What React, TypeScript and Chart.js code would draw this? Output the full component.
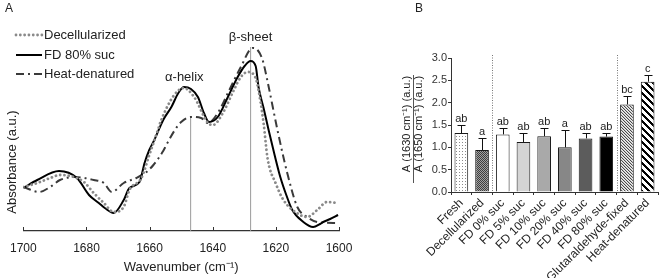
import React, { useEffect, useRef } from "react";
import { Chart, registerables } from "chart.js";

Chart.register(...registerables);

const FONT = "Arial, 'Liberation Sans', sans-serif";
Chart.defaults.font.family = FONT;

// ---------- Panel A: FTIR amide I spectra (wavenumber, absorbance a.u.) ----------
const decellularized: [number, number][] = [
  [1700, 0.22], [1695.6, 0.24], [1691.5, 0.265], [1688.4, 0.28], [1684.0, 0.27],
  [1680.8, 0.245], [1677.7, 0.19], [1674.5, 0.14], [1671.4, 0.095], [1668.2, 0.12],
  [1666.4, 0.205], [1662.6, 0.265], [1660.1, 0.38], [1657.9, 0.48], [1656.3, 0.555],
  [1652.2, 0.68], [1649.1, 0.715], [1645.9, 0.67], [1641.5, 0.54], [1639.9, 0.53],
  [1636.8, 0.59], [1633.3, 0.705], [1631.1, 0.77], [1628.9, 0.795], [1626.4, 0.765],
  [1624.8, 0.64], [1623.9, 0.54], [1622.6, 0.36], [1620.1, 0.24], [1617.6, 0.155],
  [1612.3, 0.08], [1610.1, 0.07], [1606.9, 0.105], [1603.8, 0.145], [1600.3, 0.14],
];

const fd80Suc: [number, number][] = [
  [1700, 0.215], [1695.6, 0.255], [1688.7, 0.3], [1683.0, 0.265], [1679.2, 0.18],
  [1676.1, 0.14], [1674.2, 0.115], [1671.4, 0.09], [1668.2, 0.155], [1666.4, 0.215],
  [1663.2, 0.245], [1661.6, 0.34], [1660.1, 0.405], [1658.5, 0.455], [1655.7, 0.555],
  [1653.1, 0.62], [1650.9, 0.69], [1649.1, 0.72], [1646.9, 0.71], [1644.7, 0.67],
  [1642.8, 0.59], [1641.2, 0.545], [1638.4, 0.57], [1635.2, 0.67], [1632.1, 0.77],
  [1629.9, 0.825], [1628.0, 0.85], [1626.4, 0.825], [1625.5, 0.72], [1623.9, 0.615],
  [1622.3, 0.505], [1620.4, 0.38], [1618.6, 0.27], [1616.7, 0.18], [1614.8, 0.105],
  [1611.3, 0.045], [1608.2, 0.02], [1606.0, 0.035], [1605.0, 0.045], [1602.8, 0.06],
  [1600.3, 0.08],
];

const heatDenatured: [number, number][] = [
  [1700, 0.22], [1695, 0.195], [1691.5, 0.22], [1688.4, 0.255], [1683.6, 0.27],
  [1677.7, 0.255], [1674.5, 0.24], [1672.0, 0.195], [1668.2, 0.24], [1664.2, 0.265],
  [1661.0, 0.295], [1658.8, 0.33], [1655.7, 0.4], [1654.7, 0.43], [1652.2, 0.5],
  [1650.0, 0.545], [1646.9, 0.57], [1643.7, 0.565], [1641.5, 0.54], [1638.4, 0.59],
  [1635.2, 0.69], [1631.1, 0.82], [1627.4, 0.915], [1625.8, 0.905], [1624.2, 0.855],
  [1622.6, 0.745], [1619.5, 0.505], [1616.4, 0.29], [1613.2, 0.12], [1610.1, 0.07],
  [1606.9, 0.045], [1600.3, 0.04],
];

const alphaHelixMarker: [number, number][] = [[1647, 0], [1647, 0.575]];
const betaSheetMarker: [number, number][] = [[1628, 0], [1628, 0.92]];
const wavenumberTicks = [1700, 1680, 1660, 1640, 1620, 1600];

// ---------- Panel B: A(1630)/A(1650) ratio ----------
const categories = [
  "Fresh", "Decellularized", "FD 0% suc", "FD 5% suc", "FD 10% suc",
  "FD 20% suc", "FD 40% suc", "FD 80% suc", "Glutaraldehyde-fixed", "Heat-denatured",
];
const ratioMeans = [1.32, 0.94, 1.29, 1.12, 1.25, 1.0, 1.2, 1.24, 1.96, 2.47];
const ratioErrors = [0.18, 0.27, 0.15, 0.2, 0.18, 0.38, 0.13, 0.09, 0.18, 0.15];
const sigLetters = ["ab", "a", "ab", "ab", "ab", "a", "ab", "ab", "bc", "c"];
const separatorsAfter = [1, 7];

function makePattern(kind: string): CanvasPattern | string {
  const size = kind === "stripes" ? 7 : kind === "hatch" ? 3 : kind === "dots" ? 3 : 2;
  const c = document.createElement("canvas");
  c.width = size;
  c.height = size;
  const g = c.getContext("2d")!;
  g.fillStyle = "#ffffff";
  g.fillRect(0, 0, size, size);
  for (let y = 0; y < size; y++) {
    for (let x = 0; x < size; x++) {
      let col: string | null = null;
      if (kind === "dots") {
        if (x === 1 && y === 1) col = "#8a8a8a";
      } else if (kind === "checker") {
        col = (x + y) % 2 === 0 ? "#3e3e3e" : "#a2a2a2";
      } else if (kind === "hatch") {
        const d = (((x - y) % 3) + 3) % 3;
        col = d === 0 ? "#4a4a4a" : d === 1 ? "#c8c8c8" : "#f0f0f0";
      } else if (kind === "stripes") {
        const d = (((x - y) % 7) + 7) % 7;
        if (d <= 2) col = "#000000";
      }
      if (col) {
        g.fillStyle = col;
        g.fillRect(x, y, 1, 1);
      }
    }
  }
  return g.createPattern(c, "repeat") || "#999";
}

const panelAPlugin = {
  id: "panelADecor",
  afterDraw(chart: any) {
    const ctx = chart.ctx as CanvasRenderingContext2D;
    const xs = chart.scales.x;
    const bottom = chart.chartArea.bottom;
    ctx.save();
    // inner tick marks
    ctx.strokeStyle = "#333";
    ctx.lineWidth = 1;
    wavenumberTicks.forEach((t) => {
      const px = Math.round(xs.getPixelForValue(t)) + 0.5;
      ctx.beginPath();
      ctx.moveTo(px, bottom);
      ctx.lineTo(px, bottom - 4);
      ctx.stroke();
    });
    ctx.fillStyle = "#222";
    ctx.textBaseline = "middle";
    ctx.font = `12px ${FONT}`;
    ctx.textAlign = "left";
    ctx.fillText("A", 5, 9);
    // legend
    const ds = chart.data.datasets;
    const rows = [35, 55, 74];
    for (let i = 0; i < 3; i++) {
      const d = ds[i];
      ctx.save();
      ctx.strokeStyle = d.borderColor;
      ctx.lineWidth = d.borderWidth;
      ctx.lineCap = d.borderCapStyle || "butt";
      ctx.setLineDash(d.borderDash || []);
      ctx.beginPath();
      ctx.moveTo(16, rows[i]);
      ctx.lineTo(42, rows[i]);
      ctx.stroke();
      ctx.restore();
      ctx.font = `13px ${FONT}`;
      ctx.fillStyle = "#222";
      ctx.fillText(d.label, 44, rows[i] + 0.5);
    }
    // peak labels
    ctx.textAlign = "center";
    ctx.font = `13px ${FONT}`;
    ctx.fillText("α-helix", xs.getPixelForValue(1649), 77);
    ctx.fillText("β-sheet", xs.getPixelForValue(1628), 37);
    // y title
    ctx.save();
    ctx.translate(12, 162);
    ctx.rotate(-Math.PI / 2);
    ctx.font = `13px ${FONT}`;
    ctx.fillText("Absorbance (a.u.)", 0, 0);
    ctx.restore();
    ctx.restore();
  },
};

const panelBPlugin = {
  id: "panelBDecor",
  afterDatasetsDraw(chart: any) {
    const ctx = chart.ctx as CanvasRenderingContext2D;
    const ys = chart.scales.y;
    const xs = chart.scales.x;
    const meta = chart.getDatasetMeta(0);
    ctx.save();
    // separators
    ctx.strokeStyle = "#777";
    ctx.lineWidth = 1;
    ctx.setLineDash([1, 1.5]);
    separatorsAfter.forEach((i) => {
      const px = Math.round((xs.getPixelForValue(i) + xs.getPixelForValue(i + 1)) / 2) + 0.5;
      ctx.beginPath();
      ctx.moveTo(px, ys.getPixelForValue(3.0) - 3);
      ctx.lineTo(px, chart.chartArea.bottom);
      ctx.stroke();
    });
    ctx.setLineDash([]);
    // error bars + letters
    ctx.strokeStyle = "#111";
    ctx.fillStyle = "#222";
    ctx.font = `11px ${FONT}`;
    ctx.textAlign = "center";
    ctx.textBaseline = "bottom";
    meta.data.forEach((bar: any, i: number) => {
      const x = Math.round(bar.x) + 0.5;
      const yBar = ys.getPixelForValue(ratioMeans[i]);
      const yTop = Math.round(ys.getPixelForValue(ratioMeans[i] + ratioErrors[i])) + 0.5;
      ctx.beginPath();
      ctx.moveTo(x, yBar);
      ctx.lineTo(x, yTop);
      ctx.moveTo(x - 4, yTop);
      ctx.lineTo(x + 4, yTop);
      ctx.stroke();
      ctx.fillText(sigLetters[i], bar.x, yTop - 1);
    });
    ctx.restore();
  },
  afterDraw(chart: any) {
    const ctx = chart.ctx as CanvasRenderingContext2D;
    ctx.save();
    ctx.fillStyle = "#222";
    ctx.font = `12px ${FONT}`;
    ctx.textAlign = "left";
    ctx.textBaseline = "middle";
    ctx.fillText("B", 35, 9);
    // fraction title
    const cy = 124;
    ctx.font = `11px ${FONT}`;
    ctx.textAlign = "center";
    ctx.save();
    ctx.translate(27, cy);
    ctx.rotate(-Math.PI / 2);
    ctx.fillText("A (1630 cm⁻¹) (a.u.)", 0, 0);
    ctx.restore();
    ctx.save();
    ctx.translate(39, cy);
    ctx.rotate(-Math.PI / 2);
    ctx.fillText("A (1650 cm⁻¹) (a.u.)", 0, 0);
    ctx.restore();
    ctx.strokeStyle = "#555";
    ctx.lineWidth = 1;
    ctx.beginPath();
    ctx.moveTo(33.5, 75);
    ctx.lineTo(33.5, 183);
    ctx.stroke();
    ctx.restore();
  },
};

const toXY = (arr: [number, number][]) => arr.map(([x, y]) => ({ x, y }));

export default function App() {
  const refA = useRef<HTMLCanvasElement>(null);
  const refB = useRef<HTMLCanvasElement>(null);

  useEffect(() => {
    const chartA = new Chart(refA.current!, {
      type: "line",
      data: {
        datasets: [
          {
            label: "Decellularized",
            data: toXY(decellularized),
            borderColor: "#8a8a8a",
            borderWidth: 2.8,
            borderDash: [0.01, 4.3],
            borderCapStyle: "round",
            pointRadius: 0,
            cubicInterpolationMode: "monotone",
          },
          {
            label: "FD 80% suc",
            data: toXY(fd80Suc),
            borderColor: "#000000",
            borderWidth: 2,
            pointRadius: 0,
            cubicInterpolationMode: "monotone",
          },
          {
            label: "Heat-denatured",
            data: toXY(heatDenatured),
            borderColor: "#3a3a3a",
            borderWidth: 2,
            borderDash: [8, 4, 2, 4],
            pointRadius: 0,
            cubicInterpolationMode: "monotone",
          },
          {
            label: "α-helix",
            data: toXY(alphaHelixMarker),
            borderColor: "#9a9a9a",
            borderWidth: 1,
            pointRadius: 0,
          },
          {
            label: "β-sheet",
            data: toXY(betaSheetMarker),
            borderColor: "#9a9a9a",
            borderWidth: 1,
            pointRadius: 0,
          },
        ],
      } as any,
      options: {
        animation: false,
        responsive: false,
        maintainAspectRatio: false,
        layout: { padding: { left: 21, right: 31, top: 31, bottom: 0 } },
        plugins: { legend: { display: false }, tooltip: { enabled: false } },
        scales: {
          x: {
            type: "linear",
            min: 1600,
            max: 1700,
            reverse: true,
            ticks: {
              stepSize: 20,
              font: { size: 12 },
              color: "#222",
              padding: 10,
              callback: (v: any) => String(v),
            },
            grid: { display: false, drawTicks: false },
            border: { display: true, color: "#333", width: 1.2 },
            title: {
              display: true,
              text: "Wavenumber (cm⁻¹)",
              font: { size: 13 },
              color: "#222",
              padding: { top: 2, bottom: 3 },
            },
            afterFit: (s: any) => {
              s.height = 47;
            },
          },
          y: { display: false, min: 0, max: 1 },
        },
      } as any,
      plugins: [panelAPlugin],
    });

    const fills = [
      makePattern("dots"),
      makePattern("checker"),
      "#ffffff",
      "#d4d4d4",
      "#a9a9a9",
      "#878787",
      "#5c5c5c",
      "#000000",
      makePattern("hatch"),
      makePattern("stripes"),
    ];

    const chartB = new Chart(refB.current!, {
      type: "bar",
      data: {
        labels: categories,
        datasets: [
          {
            data: ratioMeans,
            backgroundColor: fills,
            borderColor: "#1a1a1a",
            borderWidth: 1,
            barPercentage: 0.66,
            categoryPercentage: 1,
          },
        ],
      } as any,
      options: {
        animation: false,
        responsive: false,
        maintainAspectRatio: false,
        layout: { padding: { left: 0, right: 2, top: 58, bottom: 0 } },
        plugins: { legend: { display: false }, tooltip: { enabled: false } },
        scales: {
          x: {
            ticks: {
              minRotation: 45,
              maxRotation: 45,
              autoSkip: false,
              font: { size: 12 },
              color: "#222",
              padding: 1,
            },
            grid: { display: true, drawOnChartArea: false, drawTicks: true, tickLength: 3, color: "#333" },
            border: { color: "#333" },
            afterFit: (s: any) => {
              s.height = 86;
            },
          },
          y: {
            min: 0,
            max: 3,
            ticks: {
              stepSize: 0.5,
              callback: (v: any) => Number(v).toFixed(1),
              font: { size: 11 },
              color: "#333",
              padding: 1,
            },
            grid: { display: true, drawOnChartArea: false, drawTicks: true, tickLength: 3, color: "#333" },
            border: { color: "#333" },
            afterFit: (s: any) => {
              s.width = 71;
            },
          },
        },
      } as any,
      plugins: [panelBPlugin],
    });

    return () => {
      chartA.destroy();
      chartB.destroy();
    };
  }, []);

  return (
    <div style={{ position: "fixed", left: 0, top: 0, width: 660, height: 278, background: "#fff", overflow: "hidden" }}>
      <canvas ref={refA} width={370} height={278} style={{ position: "absolute", left: 0, top: 0, width: 370, height: 278 }} />
      <canvas ref={refB} width={280} height={278} style={{ position: "absolute", left: 380, top: 0, width: 280, height: 278 }} />
    </div>
  );
}
